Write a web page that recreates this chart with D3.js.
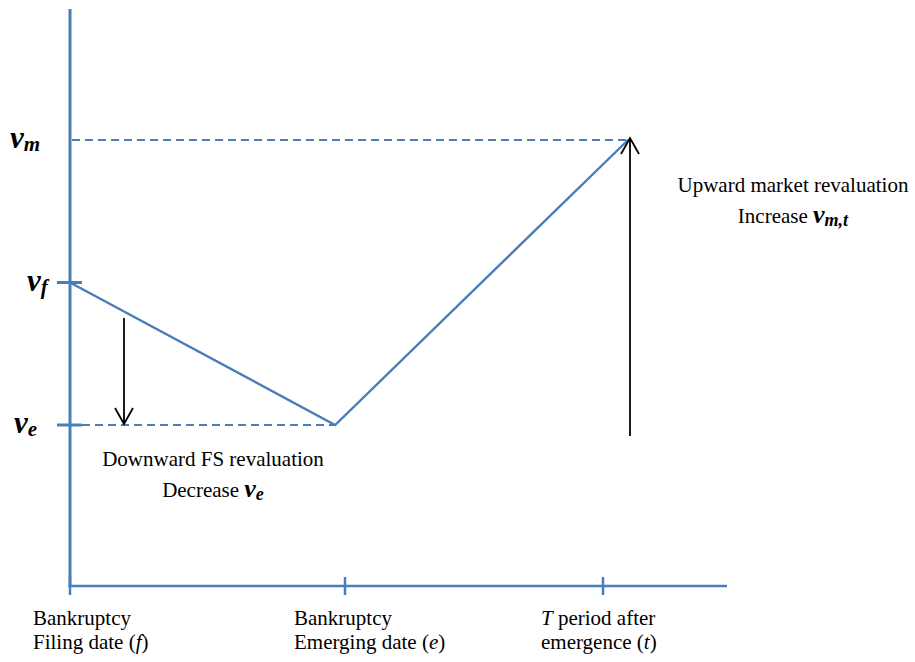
<!DOCTYPE html>
<html><head><meta charset="utf-8">
<script src="https://cdn.jsdelivr.net/npm/d3@7"></script>
<style>body{margin:0;background:#fff}svg{display:block}text{font-family:"Liberation Serif","Times New Roman",serif}</style>
</head><body><svg id="c" width="915" height="662"></svg>
<script>
// Data
const xCategories = ["f", "e", "t"];
const xTickPositions = [0, 1, 2];
const xLabelLine1 = ["Bankruptcy", "Bankruptcy", "T period after"];
const xLabelLine2 = ["Filing date (f)", "Emerging date (e)", "emergence (t)"];
const yLevelNames = ["m", "f", "e"];
const yLevelValues = [3, 2, 1];
const pathTimes = [0, 0.964, 2.097];
const pathValues = [2, 1, 3];

const svg = d3.select("#c");
const blue = "#4a7ebb";
const x = d3.scaleLinear().domain([0, 1, 2]).range([70, 345, 603]);
const y = d3.scaleLinear().domain([1, 3]).range([425, 140]);

// axes
svg.append("line").attr("x1", x(0)).attr("x2", x(0)).attr("y1", 9).attr("y2", 587)
  .attr("stroke", blue).attr("stroke-width", 3);
svg.append("line").attr("x1", x(0) - 1.5).attr("x2", 727).attr("y1", 586).attr("y2", 586)
  .attr("stroke", blue).attr("stroke-width", 2.5);
svg.selectAll(".xt").data(xTickPositions).enter().append("line")
  .attr("x1", d => x(d)).attr("x2", d => x(d)).attr("y1", 577).attr("y2", 595)
  .attr("stroke", blue).attr("stroke-width", 2.5);

// y ticks for vf, ve
svg.selectAll(".yt").data(yLevelValues.filter(v => v !== 3)).enter().append("line")
  .attr("x1", 57).attr("x2", 82).attr("y1", d => y(d)).attr("y2", d => y(d))
  .attr("stroke", blue).attr("stroke-width", 3);

// dashed reference lines
const dash = "8,5";
svg.append("line").attr("x1", x(0) + 2).attr("x2", x(pathTimes[2])).attr("y1", y(3)).attr("y2", y(3))
  .attr("stroke", blue).attr("stroke-width", 1.8).attr("stroke-dasharray", dash);
svg.append("line").attr("x1", 82).attr("x2", x(pathTimes[1])).attr("y1", y(1)).attr("y2", y(1))
  .attr("stroke", blue).attr("stroke-width", 1.8).attr("stroke-dasharray", dash);

// value path
const pts = pathTimes.map((t, i) => [x(t), y(pathValues[i])]);
svg.append("path").attr("d", d3.line()(pts)).attr("fill", "none")
  .attr("stroke", blue).attr("stroke-width", 2.4);

// y labels
const yLab = svg.selectAll(".yl").data(yLevelNames).enter().append("text")
  .attr("x", 10).attr("y", (d, i) => y(yLevelValues[i]) + 8)
  .attr("font-weight", "bold").attr("font-style", "italic").attr("font-size", 31);
yLab.append("tspan").text("v");
yLab.append("tspan").attr("font-size", 21).attr("dy", 3).text(d => d);
yLab.filter((d) => d === "f").attr("x", 27);
yLab.filter((d) => d === "e").attr("x", 14);

// arrows
function arrow(x0, y0, y1) {
  const g = svg.append("g").attr("stroke", "#000").attr("stroke-width", 1.8).attr("fill", "none");
  g.append("line").attr("x1", x0).attr("x2", x0).attr("y1", y0).attr("y2", y1);
  const s = y1 > y0 ? -1 : 1;
  g.append("path").attr("d", `M${x0 - 9},${y1 + s * 16}L${x0},${y1}L${x0 + 9},${y1 + s * 16}`);
}
arrow(124, 318, y(1) - 1);
arrow(630, 436, y(3) - 2);

// annotations
function ann(cx, cy, t1, t2, sub) {
  svg.append("text").attr("x", cx).attr("y", cy).attr("text-anchor", "middle")
    .attr("font-size", 21).text(t1);
  const t = svg.append("text").attr("x", cx).attr("y", cy + 31).attr("text-anchor", "middle").attr("font-size", 21);
  t.append("tspan").text(t2 + " ");
  t.append("tspan").attr("font-weight", "bold").attr("font-style", "italic").attr("font-size", 26).text("v");
  t.append("tspan").attr("font-weight", "bold").attr("font-style", "italic").attr("font-size", 18).attr("dy", 3).text(sub);
}
ann(793, 192, "Upward market revaluation", "Increase", "m,t");
ann(213, 466, "Downward FS revaluation", "Decrease", "e");

// x labels
const xl = [33, 294, 541];
xTickPositions.forEach((d, i) => {
  const t1 = svg.append("text").attr("x", xl[i]).attr("y", 625).attr("font-size", 21);
  if (i === 2) {
    t1.append("tspan").attr("font-style", "italic").text("T");
    t1.append("tspan").text(" period after");
  } else t1.text(xLabelLine1[i]);
  const t2 = svg.append("text").attr("x", xl[i]).attr("y", 649).attr("font-size", 21);
  const l2 = xLabelLine2[i];
  const p = l2.lastIndexOf("(");
  t2.append("tspan").text(l2.slice(0, p + 1));
  t2.append("tspan").attr("font-style", "italic").text(xCategories[i]);
  t2.append("tspan").text(")");
});
</script></body></html>
